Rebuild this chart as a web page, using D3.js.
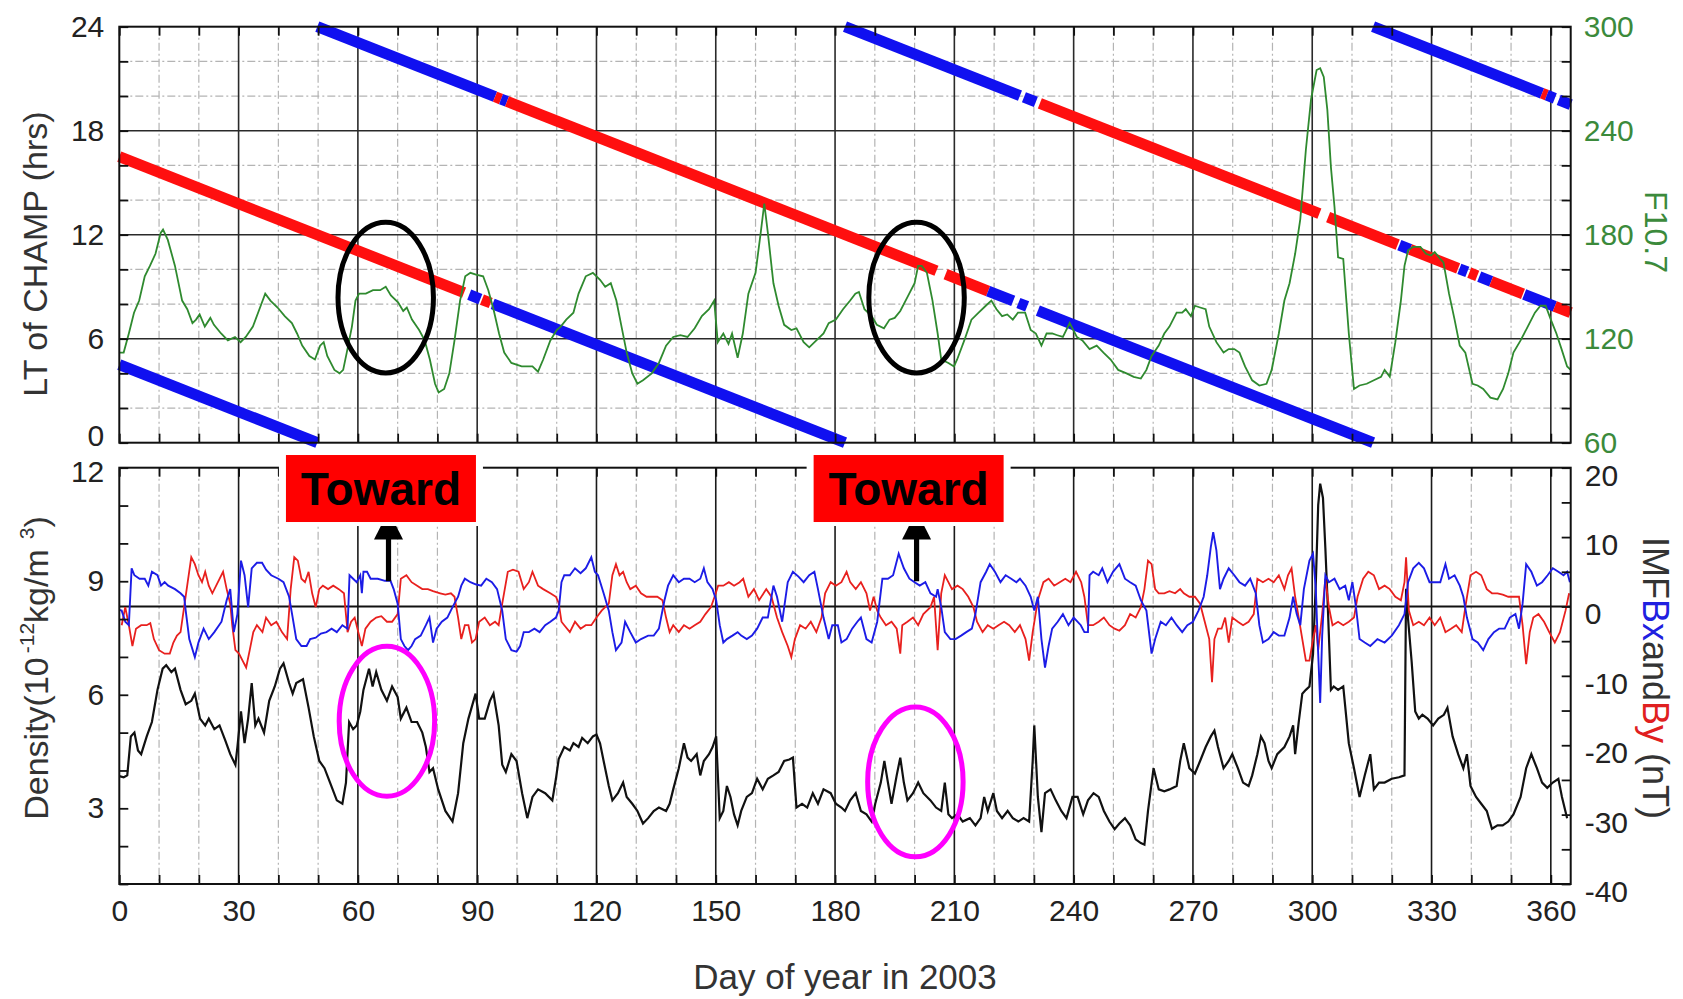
<!DOCTYPE html>
<html>
<head>
<meta charset="utf-8">
<script src="https://cdn.jsdelivr.net/npm/d3@7"></script>
<style>
  body { margin: 0; background: #fff; }
  svg text { font-family: "Liberation Sans", Arial, Helvetica, sans-serif; }
</style>
</head>
<body>
<div id="chart"></div>
<script>
// ---- data ----
const dayDomain = [0, 365];
const ltDomain = [0, 24];
const f107Domain = [60, 300];
const densityDomain = [1, 12];
const imfDomain = [-40, 20];

const xTickLabels = [0, 30, 60, 90, 120, 150, 180, 210, 240, 270, 300, 330, 360];
const ltTickLabels = [0, 6, 12, 18, 24];
const f107TickLabels = [60, 120, 180, 240, 300];
const densityTickLabels = [3, 6, 9, 12];
const imfTickLabels = [-40, -30, -20, -10, 0, 10, 20];

// LT of CHAMP, two orbit nodes: [day0, lt0, day1, lt1, sector] (T = toward, A = away)
const ltNodeA = [
  [0, 4.5, 49.8, 0, "A"],
  [49.8, 24, 94.5, 19.96, "A"],
  [94.5, 19.96, 96, 19.82, "T"],
  [96, 19.82, 97.5, 19.69, "A"],
  [97.5, 19.69, 205.5, 9.92, "T"],
  [207.8, 9.72, 218.5, 8.75, "T"],
  [218.5, 8.75, 224.8, 8.18, "A"],
  [226.1, 8.06, 228.3, 7.86, "A"],
  [231, 7.62, 315.3, 0, "A"],
  [315.3, 24, 357.8, 20.16, "A"],
  [357.8, 20.16, 359, 20.05, "T"],
  [359, 20.05, 361, 19.87, "A"],
  [362, 19.78, 365, 19.51, "A"]
];
const ltNodeB = [
  [0, 16.5, 86.7, 8.66, "T"],
  [88, 8.54, 90.8, 8.29, "A"],
  [91.2, 8.26, 93.4, 8.06, "T"],
  [93.9, 8.01, 182.5, 0, "A"],
  [182.5, 24, 226.5, 20.02, "A"],
  [227.5, 19.93, 230.5, 19.66, "A"],
  [231.5, 19.57, 301.8, 13.22, "T"],
  [304, 13.02, 321.5, 11.43, "T"],
  [321.9, 11.4, 324.6, 11.15, "A"],
  [324.6, 11.15, 336.7, 10.06, "T"],
  [337, 10.03, 339, 9.85, "A"],
  [339.5, 9.81, 341.5, 9.63, "T"],
  [342, 9.58, 345, 9.31, "A"],
  [345, 9.31, 353, 8.59, "T"],
  [353.3, 8.56, 361, 7.87, "A"],
  [361, 7.87, 365, 7.5, "T"]
];

// F10.7 [day, sfu]
const f107 = [[0,112],[1.1,112],[2.4,123],[3.7,135],[5,142],[6.4,156],[7.7,162],[9.1,169],[10.4,181],[11,183],[12.2,177],[14,162],[15.8,142],[17.1,137],[18.4,129],[19.3,131],[20.2,134],[21.5,127],[22.9,132],[23.8,128],[25.6,123],[27.3,119],[29.1,121],[30.5,118],[31.8,121],[33.6,127],[34.9,135],[36.7,146],[38,142],[39.8,138],[41.6,133],[43.4,129],[44.7,123],[46,116],[47.8,110],[49.2,108],[50.5,116],[51.4,118],[52.3,110],[54.1,102],[55.4,100],[56.3,102],[57.2,112],[58.5,127],[59.4,142],[60.3,146],[62,146],[63.8,148],[65.6,148],[67,150],[68.3,145],[70.1,141],[71.4,136],[72.3,138],[73.6,131],[75.4,125],[76.8,119],[78.1,108],[79.4,94],[80.3,89],[81.7,91],[83,100],[84.3,119],[85.7,142],[87,156],[88.3,158],[89.7,157],[91.5,156],[92.8,148],[94.1,137],[95.5,123],[96.8,112],[98.6,106],[101.2,104],[103.9,104],[105.3,101],[106.6,108],[108.4,119],[110,125],
  [111,127],[112.4,131],[114.2,135],[115.5,146],[117.3,156],[119.1,158],[120.9,154],[122.2,150],[123.6,152],[125,142],[126.3,127],[127.6,112],[129,100],[130.3,94],[131.7,96],[133.9,100],[135.7,106],[137.5,116],[139.3,121],[141.1,122],[142.9,121],[144.7,126],[146.5,133],[148.3,137],[149.6,142],[150.5,118],[151.9,123],[153.2,117],[154.1,123],[155.5,109],[156.8,123],[158.2,146],[160,158],[161.3,181],[162.2,198],[163.1,181],[164.5,152],[165.8,139],[167.2,128],[169,125],[170.3,126],[172.1,118],[173.5,115],[175.3,119],[177.1,123],[178.4,129],[180.2,131],[182,137],[183.8,142],[185.1,146],[186,147],[187.4,137],[189.2,133],[190.5,128],[192.3,126],[193.7,131],[195,132],[196.4,136],[198.2,144],[200,152],[200.9,162],[201.8,162],[203.1,158],[204.5,142],[205.8,123],[206.7,108],[208.5,106],[209.9,104],[210.7,108],[212.5,119],[214.3,131],[216.1,135],[217.9,139],[219.3,142],[220.6,137],[222,133],[223.3,134],[224.7,131],[226,135],[227.8,135],[229.2,125],[230.5,123],[231.9,116],[233.2,123],[234.6,123],[235.9,122],[237.3,121],[239,129],[240.8,121],[242.2,119],[244,114],[245.8,116],[247.5,112],[249.3,108],[251.2,102],
  [253.3,100],[255.1,98],[256.9,97],[258.3,102],[259.6,110],[261.4,116],[262.8,123],[264.1,127],[265.9,135],[267.3,135],[268.2,137],[269.5,133],[270.5,139],[271.8,138],[273.2,137],[274.1,127],[275.9,118],[277.7,112],[279,114],[280.4,114],[281.7,112],[283.1,104],[284.9,96],[286.7,93],[288.5,94],[289.8,102],[291.6,123],[293,142],[294.3,152],[295.7,169],[297,189],[298.4,229],[299.7,258],[301.1,275],[302,276],[302.9,271],[303.8,252],[304.7,219],[305.6,196],[306.5,167],[307.8,166],[309.2,123],[310.5,91],[311.9,93],[313.7,94],[315.5,96],[317.3,98],[318.2,102],[319.5,98],[320.9,118],[322.3,142],[323.2,162],[324.1,171],[325.4,173],[327.2,173],[328.6,169],[329.9,168],[330.8,170],[332.2,166],[333,164],[334.4,146],[335.8,131],[337.1,116],[338.5,112],[340.3,94],[341.6,93],[343,91],[344.8,86],[346.6,85],[348,91],[349.3,100],[350.6,112],[352.4,119],[354.2,127],[356,135],[357.4,139],[358.7,139],[360,131],[361.4,123],[362.7,114],[364.1,104],[365,102]];

// Density [day, 1e-12 kg/m3]
const density = [[0,3.85],[1.1,3.82],[2,3.87],[2.9,4.9],[3.8,5.0],[4.7,4.53],[5.5,4.43],[6.9,4.9],[8.2,5.28],[9.6,6.13],[10.9,6.69],[11.8,6.78],[13.1,6.6],[14,6.69],[15.4,6.13],[16.7,5.75],[18.1,5.84],[19,6.03],[20.3,5.37],[21.6,5.19],[22.5,5.37],[23.9,5.09],[25.2,5.19],[26.6,4.81],[27.9,4.43],[29.2,4.15],[29.7,4.62],[30.6,5.56],[31.5,4.72],[32.4,5.37],[33.3,6.31],[34.2,5.19],[35,5.37],[36.4,5.0],[37.7,5.84],[39.1,6.22],[40.4,6.69],[41.3,6.83],[42.7,6.31],[43.6,6.03],[44.5,6.31],[46.2,6.41],[47.6,5.66],[48.9,4.9],[50.3,4.25],[51.6,4.06],[53,3.68],[54.7,3.21],[56.1,3.12],[57,3.68],[57.8,5.28],[58.8,5.09],[59.7,5.19],[60.6,5.56],[61.4,6.13],[62.8,6.69],[63.7,6.22],[64.6,6.6],[65.9,6.13],[67.3,5.84],[68.6,6.22],[70,5.94],[70.8,5.37],[72.2,5.66],[73.5,5.28],[74.9,5.28],[76.2,5.0],[77.1,4.62],[78,3.96],[78.9,4.06],[80.2,3.5],[82,2.93],[83.8,2.65],[85.2,3.4],[86.5,4.72],[87.8,5.37],[89.6,6.03],[90.5,5.37],[91.9,5.37],[93.2,5.84],[94.1,6.03],[95.4,5.19],[96.3,4.15],[97.2,3.96],[98.6,4.43],[99.9,4.25],[101.3,3.4],[102.6,2.74],[103.9,3.3],[105.3,3.5],[107.1,3.4],[108.9,3.21],[109.8,3.78],[110.5,4.3],
  [111.9,4.62],[113.3,4.53],[114.2,4.72],[115.5,4.62],[116.4,4.86],[117.8,4.72],[119.1,4.9],[120,4.95],[120.9,4.72],[121.8,4.25],[123.1,3.59],[124,3.21],[125.4,3.4],[126.7,3.68],[127.6,3.3],[129,3.12],[130.3,2.93],[131.7,2.6],[133,2.74],[134.4,2.93],[135.7,3.02],[137.5,2.93],[138.4,3.12],[139.3,3.5],[140.7,4.06],[142,4.72],[142.9,4.34],[143.8,4.25],[145.2,4.43],[146.1,3.87],[147,4.25],[148.3,4.43],[149.2,4.62],[150.1,4.9],[151,2.74],[151.9,2.93],[152.8,3.59],[153.7,3.3],[154.6,2.84],[155.5,2.55],[156.4,2.93],[157.8,3.3],[159.1,3.4],[160.4,3.78],[161.8,3.5],[163.1,3.78],[164.5,3.87],[165.8,3.96],[167.2,4.25],[168.5,4.29],[169.4,4.34],[170.3,3.02],[171.7,3.12],[173,3.02],[174.4,3.4],[175.7,3.12],[177.1,3.5],[178.9,3.4],[180.2,3.12],[181.6,3.02],[182.5,2.93],[183.8,3.21],[185.2,3.4],[186.5,2.93],[187.9,2.84],[189.2,2.65],[190.1,3.12],[191.5,3.68],[192.4,4.25],[193.3,3.68],[194.2,3.12],[195.5,3.87],[196.4,4.34],[197.3,3.68],[198.2,3.21],[199.6,3.4],[200.9,3.68],[202.2,3.4],[204,3.21],[205.4,3.02],[206.7,2.93],[207.6,3.68],[208.5,2.84],[209.4,2.74],[210.8,2.84],[212.1,2.65],[213.9,2.74],[215.3,2.55],[216.6,2.74],[217.5,3.3],[218.4,2.93],[219.8,3.4],[220.7,2.93],[222,2.74],[223.4,2.93],[224.7,2.74],[226.1,2.65],[227.4,2.74],[228.8,2.65],[229.7,4.25],[230.1,5.19],[231,3.3],[231.9,2.37],[232.8,3.4],[234.2,3.5],[235.5,3.21],[236.9,2.93],[238.2,2.74],[239.7,3.3],[241,3.3],[242.4,2.84],[243.6,3.21],[245,3.4],[246.3,3.3],[247.6,2.93],[249,2.65],[250.3,2.45],
  [251.5,2.6],[252.9,2.74],[254.2,2.55],[255.6,2.18],[256.9,2.08],[257.8,2.04],[258.7,2.93],[260.1,4.06],[261.4,3.5],[262.8,3.45],[264.1,3.5],[265.9,3.59],[266.8,4.25],[267.7,4.72],[269.1,4.06],[270.5,3.92],[271.8,4.25],[273.2,4.62],[274.5,4.9],[275.4,5.05],[276.3,4.62],[277.7,4.06],[279,4.25],[279.9,4.43],[281.3,4.06],[282.6,3.68],[284,3.59],[284.9,3.87],[286.2,4.43],[287.1,4.9],[288,4.72],[289,4.25],[289.8,4.06],[291.2,4.43],[293,4.62],[294.3,4.9],[295.2,5.19],[295.7,4.43],[296.6,5.28],[297.5,6.03],[298.4,6.13],[299.3,6.22],[300.2,7.07],[300.9,8.95],[301.5,11.01],[302,11.58],[302.7,11.2],[303.3,9.88],[303.9,8.38],[304.7,6.13],[305.4,6.22],[306.5,6.13],[307.8,6.22],[309.2,4.72],[310.5,4.06],[311.9,3.3],[313.2,3.87],[314.6,4.43],[315.5,3.5],[316.8,3.68],[318.2,3.68],[320,3.78],[321.8,3.82],[323.2,3.87],[323.6,8.8],[324.1,8.0],[325,6.88],[325.9,5.56],[326.8,5.37],[327.7,5.47],[329,5.37],[330.4,5.19],[331.7,5.37],[333.1,5.47],[334,5.66],[335.3,4.9],[336.7,4.43],[338,4.06],[338.9,4.43],[339.8,3.59],[341.2,3.3],[342.5,3.12],[343.9,2.93],[345.2,2.46],[346.6,2.55],[347.9,2.55],[349.3,2.65],[350.6,2.84],[352.4,3.3],[353.8,4.06],[355.1,4.43],[356.5,4.06],[357.8,3.68],[359.1,3.54],[360.5,3.68],[361.9,3.78],[362.8,3.3],[364.1,2.74]];

// IMF Bx [day, nT]
const imfBx = [[0,-0.5],[0.6,-0.6],[1.5,-2.2],[2.4,-2.7],[3.1,5.5],[3.8,4.5],[5.1,4.0],[6.4,4.0],[7.3,3.0],[8.2,5.0],[9.6,4.5],[10.5,3.0],[11.4,3.5],[12.3,3.0],[14,2.5],[15.4,1.9],[16.3,1.4],[16.7,-0.6],[17.6,-4.7],[19,-7.3],[19.9,-5.2],[21.2,-3.2],[22.5,-4.7],[23.9,-3.7],[25.7,-2.2],[27,0.9],[27.9,2.5],[28.8,-3.7],[29.7,-1.1],[30.6,6.6],[31.5,4.5],[32.4,-0.1],[33.3,5.5],[34.6,6.3],[35.9,6.3],[36.9,5.3],[38.2,4.5],[40,4.0],[41.3,3.5],[42.7,1.4],[43.6,-1.6],[44.5,-4.7],[45.8,-5.7],[47.1,-5.7],[48,-4.7],[49.4,-4.5],[50.7,-3.9],[52.1,-3.7],[53.4,-3.2],[54.7,-3.7],[56.1,-2.7],[57.4,-3.2],[57.9,4.5],[58.8,4.0],[59.7,3.5],[60.6,4.5],[61,1.9],[61.4,5.0],[62.3,5.0],[63.2,4.0],[65,4.0],[66.8,3.7],[68.2,3.7],[69,2.5],[70,0.4],[70.8,-4.7],[71.7,-5.7],[72.6,-6.3],[73.5,-5.7],[74.4,-4.7],[75.8,-4.2],[77.1,-2.7],[78,-1.6],[78.9,-5.2],[79.8,-3.2],[81.1,-2.2],[82.5,-1.6],[83.8,-0.1],[85.2,1.4],[86,3.0],[86.9,4.0],[88.3,3.5],[89.6,3.2],[91,3.0],[92.3,4.0],[93.7,3.5],[95,2.5],[96.3,-0.6],[97.2,-4.7],[98.6,-6.3],[99.9,-6.5],[100.8,-5.7],[101.7,-3.7],[103,-3.7],[104.4,-3.2],[105.7,-3.7],[107.1,-2.7],[108.4,-2.2],[109.8,-1.6],[110.5,-0.6],
  [111.2,3.5],[111.9,4.5],[113.3,4.5],[114.6,5.5],[116,4.8],[117.3,5.5],[118.7,7.1],[119.6,5.0],[120.4,4.5],[121.8,1.9],[123.1,-0.6],[124,-3.7],[124.9,-6.3],[126.3,-5.2],[127.2,-2.2],[128.5,-3.7],[129.9,-5.2],[131.2,-4.7],[133,-4.2],[134.4,-4.2],[135.7,-3.2],[137.1,0.9],[138,3.0],[139.3,4.5],[140.7,3.5],[142,4.0],[143.4,4.0],[144.7,3.5],[146.1,4.0],[147,5.5],[147.9,3.5],[149.2,2.5],[150.1,0.9],[151,-2.7],[151.9,-5.2],[152.8,-4.7],[154.2,-4.2],[155.5,-3.7],[156.4,-4.2],[157.8,-4.7],[159.1,-4.2],[160.4,-3.2],[161.8,-1.6],[163.1,-1.6],[164.5,3.0],[165.4,1.4],[166.7,-2.2],[168.1,3.5],[169.4,5.0],[170.8,4.3],[172.1,3.5],[173.5,4.5],[174.8,5.0],[175.7,2.5],[177.1,-1.6],[178.4,-4.7],[179.3,-2.7],[180.7,-2.7],[181.6,-5.2],[182.9,-4.7],[184.3,-3.2],[185.6,-2.2],[186.5,-1.6],[187.9,-4.7],[189.2,-5.2],[190.6,-2.2],[191.9,4.0],[193.3,4.0],[194.6,4.5],[196,7.6],[197.3,5.5],[198.7,4.0],[200,3.5],[201.3,3.0],[202.7,3.5],[204,1.9],[205.4,1.4],[205.8,2.5],[206.7,-0.1],[207.6,-3.7],[209,-4.7],[210.3,-4.7],[211.7,-4.2],[213,-3.7],[214.4,-3.2],[215.3,-1.1],[216.6,3.5],[218,5.0],[218.9,6.1],[220.2,5.0],[221.6,3.5],[222.9,4.5],[224.3,4.0],[225.6,3.5],[226.5,4.0],[227.9,3.0],[229.2,1.4],[230.1,-0.6],[231,1.4],[231.9,-4.7],[232.8,-8.8],[233.7,-5.7],[234.6,-3.2],[236,-2.2],[237.3,-1.1],[238.7,-2.7],[240,-1.6],[241.8,-2.7],[242.7,-3.7],[243.6,-3.7],[244,4.5],[244.9,5.0],[246.3,4.5],[247.2,5.5],[248.5,3.5],[249.9,5.0],[251.5,6.1],
  [252.9,4.0],[254.2,3.5],[255.6,3.0],[256.9,0.9],[258.3,-0.6],[259.6,-6.8],[260.5,-4.7],[261.9,-2.2],[263.2,-2.7],[264.6,-1.6],[265.9,-2.7],[267.3,-3.7],[268.6,-2.7],[270,-2.2],[271.4,-0.6],[272.7,1.4],[273.6,4.5],[274.5,8.6],[275.1,10.7],[275.9,8.1],[276.8,2.5],[277.7,4.0],[279,5.5],[280.4,4.5],[281.7,3.5],[283.1,3.0],[284.4,4.0],[285.8,1.9],[286.7,-2.7],[287.6,-5.2],[289,-4.7],[290.3,-3.7],[291.6,-4.2],[293,-4.2],[294.3,-1.6],[295.2,1.4],[296.1,-1.1],[297,-2.7],[297.9,2.5],[299.3,6.6],[300.2,7.6],[300.9,2.5],[301.5,-6.8],[302,-13.9],[302.5,-4.2],[303.3,4.5],[304.2,3.5],[305.6,4.0],[306.9,2.5],[308.3,3.0],[309.2,0.9],[310.1,3.5],[311,-0.1],[311.9,-4.7],[313.2,-5.2],[314.6,-5.7],[316.4,-4.7],[318.2,-5.2],[320,-4.2],[321.8,-2.7],[323.2,-1.1],[324.1,3.5],[325.4,5.5],[326.8,6.3],[328.1,5.5],[329.5,3.5],[330.8,3.5],[332.2,3.5],[333.5,6.1],[334.4,4.0],[335.8,4.5],[337.1,3.0],[338,1.4],[338.9,-1.6],[340.3,-4.7],[341.6,-5.2],[343,-6.3],[344.3,-4.7],[345.7,-3.7],[347,-3.2],[348.4,-3.2],[349.7,-1.6],[351.1,-1.1],[352,-3.2],[352.9,0.4],[353.8,6.1],[355.1,5.0],[356.5,3.0],[357.8,3.5],[359.2,4.5],[360.5,5.5],[361.9,5.0],[363.2,4.5],[364.1,5.0],[364.8,3.5]];

// IMF By [day, nT]
const imfBy = [[0.6,-2.7],[1.5,-0.1],[2.4,-2.7],[3.3,-5.7],[4.2,-3.2],[5.5,-2.7],[6.9,-2.7],[7.8,-2.4],[8.7,-4.7],[10,-6.3],[11.4,-6.8],[12.7,-6.8],[13.6,-5.2],[14.5,-4.2],[15.4,-3.7],[16.3,-0.1],[17.2,3.5],[18.1,7.1],[19,6.1],[19.9,4.5],[20.8,3.5],[21.6,5.0],[22.5,3.0],[23.4,1.9],[24.8,3.5],[26.1,5.0],[27,2.5],[27.9,0.4],[28.4,-2.7],[29.2,-6.3],[30.1,-6.8],[31,-7.8],[31.9,-8.8],[32.8,-6.3],[33.7,-3.7],[34.6,-2.7],[36,-3.7],[36.9,-1.6],[38.2,-2.7],[39.5,-2.2],[40.9,-3.7],[42.2,-4.7],[43.1,2.5],[44,7.1],[44.9,6.6],[45.8,4.0],[46.7,3.5],[47.6,5.0],[48.5,1.9],[49.4,-0.1],[50.3,2.5],[51.2,3.0],[52.5,2.5],[53.8,3.0],[55.2,2.5],[56.5,1.9],[57.4,-3.7],[58.3,-2.2],[59.2,-1.6],[60.1,-3.7],[61,-5.7],[61.9,-3.2],[63.2,-2.2],[64.6,-1.6],[65.9,-1.4],[67.3,-2.2],[68.6,-2.2],[70,-1.1],[70.8,4.0],[72.2,4.5],[73.5,3.5],[74.9,3.0],[76.2,2.5],[77.6,2.5],[78.9,2.2],[80.7,1.9],[82,1.7],[83.4,1.9],[84.3,1.4],[85.2,-1.6],[86,-4.7],[86.9,-2.7],[87.8,-2.7],[88.7,-5.2],[89.6,-4.7],[90.5,-2.2],[91.9,-1.6],[93.2,-2.7],[94.5,-2.2],[95.4,-2.7],[96.3,0.4],[97.7,5.0],[99,5.3],[100.4,5.0],[101.7,2.5],[103,3.5],[103.9,5.0],[105.3,3.0],[106.6,2.5],[108.4,1.9],[109.8,1.4],[110.5,0.5],
  [111.2,-2.2],[111.9,-2.7],[113.3,-3.7],[114.6,-2.2],[116,-3.2],[117.3,-2.7],[118.7,-2.7],[120,-1.6],[121.3,-0.6],[123.1,0.4],[124,4.5],[124.9,6.1],[125.8,4.5],[126.7,5.0],[127.6,3.5],[128.5,2.5],[129.9,3.0],[131.2,1.9],[132.6,1.4],[133.9,1.4],[135.3,1.4],[136.6,0.9],[137.5,-1.6],[138.4,-3.7],[139.3,-2.7],[140.7,-3.7],[142,-2.7],[143.4,-3.2],[144.7,-2.7],[146.1,-2.2],[147.4,-1.1],[148.8,-0.1],[149.7,1.4],[150.6,3.0],[151.9,3.0],[153.3,3.5],[154.6,3.0],[156,3.5],[156.9,4.0],[158.2,1.4],[159.6,2.5],[160.9,0.9],[162.7,2.5],[164,1.4],[165.4,-1.6],[166.7,-3.7],[168.1,-5.7],[169,-7.3],[169.9,-4.7],[171.2,-2.7],[172.6,-3.2],[173.9,-2.2],[175.3,-3.7],[176.6,-1.6],[177.5,1.9],[178.9,3.5],[180.2,3.0],[181.6,3.5],[182.9,5.0],[183.8,3.5],[185.2,2.5],[186.5,3.5],[187.9,1.9],[188.8,-0.6],[189.7,1.4],[190.6,-0.6],[191.5,-1.6],[192.8,-2.7],[194.2,-2.2],[195.5,-3.2],[196.4,-6.8],[196.9,-2.7],[198.2,-2.2],[199.6,-1.6],[200.9,-2.7],[202.2,-1.1],[204,-0.1],[204.9,1.4],[205.8,-6.3],[206.7,1.9],[207.6,4.5],[208.5,3.5],[209.4,2.5],[210.8,3.0],[212.1,2.5],[213.5,1.4],[214.8,-0.1],[215.7,-2.2],[217.1,-3.7],[218.4,-2.7],[219.8,-3.2],[221.1,-2.7],[222.5,-2.2],[223.8,-2.7],[225.2,-3.7],[226.5,-2.7],[227.9,-4.7],[228.8,-7.8],[229.7,-3.7],[231,0.9],[232.4,3.5],[233.7,4.0],[235.1,3.0],[236.5,3.5],[237.9,4.0],[239.2,3.5],[240.6,5.0],[241.9,3.5],[242.7,1.4],[243.6,-2.7],[244.9,-2.7],[246.3,-2.2],[247.6,-1.6],[249,-2.7],[250.3,-3.2],[251.5,-3.5],
  [252.9,-2.7],[254.2,-1.1],[255.6,-1.6],[256.9,-0.1],[257.8,2.5],[258.7,6.6],[259.6,6.1],[260.5,2.5],[261.4,1.9],[262.8,1.9],[264.1,2.2],[265.5,1.9],[266.8,2.5],[267.7,1.9],[269.1,1.4],[270.5,1.4],[271.8,0.4],[273.2,-2.7],[274.1,-4.7],[274.8,-10.9],[275.4,-4.7],[276.3,-3.2],[277.2,-3.2],[278.1,-1.6],[279,-5.2],[279.9,-1.6],[281.3,-2.2],[282.6,-2.7],[284,-2.2],[285.3,-1.1],[286.2,4.0],[287.6,3.5],[289,4.0],[290.3,3.5],[291.6,4.5],[293,2.5],[293.9,4.5],[294.8,5.5],[295.7,1.4],[296.6,-1.6],[297.5,-4.7],[298.4,-7.8],[299.3,-7.8],[300.2,-4.7],[300.9,-2.7],[301.5,-6.3],[302.5,-1.1],[303.3,4.0],[304.2,-0.1],[305.1,-2.7],[306.5,-2.2],[307.8,-2.7],[309.2,-2.2],[310.5,-1.6],[311.4,1.4],[312.8,4.0],[314.1,5.0],[315.5,4.5],[316.8,2.5],[318.2,3.0],[319.5,2.5],[320.9,1.4],[322.3,0.9],[323.2,3.5],[323.6,7.1],[324.3,-0.6],[325.4,-2.7],[326.8,-2.2],[328.1,-2.7],[329.5,-1.6],[330.8,-2.7],[332.2,-1.6],[333.5,-3.7],[334.9,-3.2],[336.2,-2.7],[337.6,-3.7],[338.5,-0.1],[339.8,4.5],[341.2,5.0],[342.5,4.5],[343.9,2.5],[345.2,1.9],[346.6,1.9],[347.9,1.7],[349.3,1.4],[350.6,1.4],[352,1.4],[352.9,-2.7],[353.8,-8.3],[354.7,-3.7],[355.6,-1.6],[356.9,-1.1],[358.3,-2.2],[359.6,-3.7],[361,-5.2],[362.3,-3.7],[363.7,-0.6],[364.6,1.9]];

// annotations, in data units
const ltRings = [[67, 8.37], [200.5, 8.37]];          // [day, LT]
const densityRings = [[67.3, 5.3], [200.2, 3.7]];     // [day, density]
const towardLabels = [[65.8, "Toward"], [198.5, "Toward"]];
const towardArrows = [67.7, 200.5];

// ---- layout ----
const width = 1683, height = 999;
const plotLeft = 119.3, plotRight = 1570.7;
const topY0 = 26.7, topY1 = 442.7;
const botY0 = 467.7, botY1 = 884;
const sectorColor = { T: "#ff0f0f", A: "#1010f0" };
const fontTick = 30;

const svg = d3.select("#chart").append("svg")
  .attr("width", width).attr("height", height)
  .style("background", "#fff");

const x = d3.scaleLinear().domain(dayDomain).range([plotLeft, plotRight]);
const yLT = d3.scaleLinear().domain(ltDomain).range([topY1, topY0]);
const yF = d3.scaleLinear().domain(f107Domain).range([topY1, topY0]);
const yDen = d3.scaleLinear().domain(densityDomain).range([botY1, botY0]);
const yB = d3.scaleLinear().domain(imfDomain).range([botY1, botY0]);

const dayGrid = d3.range(10, 361, 10);

// grid, top panel
const gTop = svg.append("g");
gTop.selectAll(".vmin").data(dayGrid.filter(d => d % 30)).join("line")
  .attr("x1", d => x(d)).attr("x2", d => x(d)).attr("y1", topY0).attr("y2", topY1)
  .attr("stroke", "#b4b4b4").attr("stroke-width", 1.2).attr("stroke-dasharray", "8,3,2,3");
gTop.selectAll(".hmin").data(d3.range(2, 24, 2).filter(d => d % 6)).join("line")
  .attr("x1", plotLeft).attr("x2", plotRight).attr("y1", d => yLT(d)).attr("y2", d => yLT(d))
  .attr("stroke", "#b4b4b4").attr("stroke-width", 1.2).attr("stroke-dasharray", "8,3,2,3");
gTop.append("g").selectAll("line").data(dayGrid.filter(d => d % 30 === 0)).join("line")
  .attr("x1", d => x(d)).attr("x2", d => x(d)).attr("y1", topY0).attr("y2", topY1)
  .attr("stroke", "#2a2a2a").attr("stroke-width", 1.6);
gTop.append("g").selectAll("line").data([6, 12, 18]).join("line")
  .attr("x1", plotLeft).attr("x2", plotRight).attr("y1", d => yLT(d)).attr("y2", d => yLT(d))
  .attr("stroke", "#2a2a2a").attr("stroke-width", 1.6);

// grid, bottom panel
const gBot = svg.append("g");
gBot.append("g").selectAll("line").data(dayGrid.filter(d => d % 30)).join("line")
  .attr("x1", d => x(d)).attr("x2", d => x(d)).attr("y1", botY0).attr("y2", botY1)
  .attr("stroke", "#b4b4b4").attr("stroke-width", 1.2).attr("stroke-dasharray", "8,3,2,3");
gBot.append("g").selectAll("line").data(dayGrid.filter(d => d % 30 === 0)).join("line")
  .attr("x1", d => x(d)).attr("x2", d => x(d)).attr("y1", botY0).attr("y2", botY1)
  .attr("stroke", "#1a1a1a").attr("stroke-width", 1.6);
gBot.append("line")
  .attr("x1", plotLeft).attr("x2", plotRight).attr("y1", yB(0)).attr("y2", yB(0))
  .attr("stroke", "#111").attr("stroke-width", 2);

// LT of CHAMP (thick marker trails)
svg.append("g").selectAll("line").data(ltNodeA.concat(ltNodeB)).join("line")
  .attr("x1", d => x(d[0])).attr("y1", d => yLT(d[1]))
  .attr("x2", d => x(d[2])).attr("y2", d => yLT(d[3]))
  .attr("stroke", d => sectorColor[d[4]])
  .attr("stroke-width", 11);

// F10.7
svg.append("path").datum(f107)
  .attr("fill", "none").attr("stroke", "#2f8a2f").attr("stroke-width", 1.8)
  .attr("d", d3.line().x(d => x(d[0])).y(d => yF(d[1])));

// density and IMF
svg.append("path").datum(density)
  .attr("fill", "none").attr("stroke", "#111").attr("stroke-width", 2.2)
  .attr("d", d3.line().x(d => x(d[0])).y(d => yDen(d[1])));
svg.append("path").datum(imfBy)
  .attr("fill", "none").attr("stroke", "#e8201e").attr("stroke-width", 1.8)
  .attr("d", d3.line().x(d => x(d[0])).y(d => yB(d[1])));
svg.append("path").datum(imfBx)
  .attr("fill", "none").attr("stroke", "#1c1ce6").attr("stroke-width", 1.9)
  .attr("d", d3.line().x(d => x(d[0])).y(d => yB(d[1])));

// frames
[[topY0, topY1], [botY0, botY1]].forEach(([a, b]) => {
  svg.append("rect").attr("x", plotLeft).attr("y", a)
    .attr("width", plotRight - plotLeft).attr("height", b - a)
    .attr("fill", "none").attr("stroke", "#111").attr("stroke-width", 2);
});

// axes
function styleAxis(g, color) {
  g.select(".domain").remove();
  g.selectAll(".tick line").attr("stroke", "#111").attr("stroke-width", 1.8);
  g.selectAll("text").attr("font-size", fontTick).attr("fill", color || "#222")
    .attr("font-family", '"Liberation Sans", Arial, sans-serif');
}
const noLabel = () => "";
const dayTicks = d3.range(0, 361, 10);

svg.append("g").attr("transform", `translate(0,${topY0})`)
  .call(d3.axisTop(x).tickValues(dayTicks).tickSize(-9).tickFormat(noLabel)).call(styleAxis);
svg.append("g").attr("transform", `translate(0,${topY1})`)
  .call(d3.axisBottom(x).tickValues(dayTicks).tickSize(-9).tickFormat(noLabel)).call(styleAxis);
svg.append("g").attr("transform", `translate(0,${botY0})`)
  .call(d3.axisTop(x).tickValues(dayTicks).tickSize(-9).tickFormat(noLabel)).call(styleAxis);
svg.append("g").attr("transform", `translate(0,${botY1})`)
  .call(d3.axisBottom(x).tickValues(dayTicks).tickSize(-9).tickPadding(16)
    .tickFormat(d => xTickLabels.includes(d) ? d : "")).call(styleAxis);

const ltAx = svg.append("g").attr("transform", `translate(${plotLeft},0)`)
  .call(d3.axisLeft(yLT).tickValues(d3.range(0, 25, 2)).tickSize(-9).tickPadding(15)
    .tickFormat(d => ltTickLabels.includes(d) ? d : "")).call(styleAxis);
// the lowest LT label sits just above the density "12", as in the figure
ltAx.selectAll(".tick").filter(d => d === 0).select("text").attr("dy", "0.1em");
svg.append("g").attr("transform", `translate(${plotRight},0)`)
  .call(d3.axisRight(yF).tickValues(d3.range(60, 301, 20)).tickSize(-9).tickPadding(13)
    .tickFormat(d => f107TickLabels.includes(d) ? d : "")).call(g => styleAxis(g, "#3b8a3b"));

const denAx = svg.append("g").attr("transform", `translate(${plotLeft},0)`)
  .call(d3.axisLeft(yDen).tickValues(d3.range(1, 13, 1)).tickSize(-9).tickPadding(15)
    .tickFormat(d => densityTickLabels.includes(d) ? d : "")).call(styleAxis);
denAx.selectAll(".tick").filter(d => d === 12).select("text").attr("dy", "0.45em");
const rAx = svg.append("g").attr("transform", `translate(${plotRight},0)`)
  .call(d3.axisRight(yB).tickValues(d3.range(-40, 21, 5)).tickSize(-9).tickPadding(14)
    .tickFormat(d => imfTickLabels.includes(d) ? d : "")).call(styleAxis);
rAx.selectAll("text").attr("dy", "0.58em");

// annotation rings
const ringRx = x(12) - x(0);
svg.append("g").selectAll("ellipse").data(ltRings).join("ellipse")
  .attr("cx", d => x(d[0])).attr("cy", d => yLT(d[1]))
  .attr("rx", ringRx).attr("ry", yLT(0) - yLT(4.35))
  .attr("fill", "none").attr("stroke", "#000").attr("stroke-width", 5);
svg.append("g").selectAll("ellipse").data(densityRings).join("ellipse")
  .attr("cx", d => x(d[0])).attr("cy", d => yDen(d[1]))
  .attr("rx", ringRx).attr("ry", yDen(1) - yDen(2.98))
  .attr("fill", "none").attr("stroke", "#ff00ff").attr("stroke-width", 5);

// arrows
const arrows = svg.append("g");
towardArrows.forEach(d => {
  const cx = x(d), tip = yDen(10.86), base = yDen(10.1), end = yDen(9.0);
  arrows.append("rect").attr("x", cx - 2.6).attr("y", base - 1).attr("width", 5.2).attr("height", end - base + 1)
    .attr("fill", "#000");
  arrows.append("path").attr("d", `M${cx},${tip}L${cx + 14.5},${base}L${cx - 14.5},${base}Z`).attr("fill", "#000");
});

// "Toward" boxes
const boxW = 190, boxH = 67;
const boxes = svg.append("g");
towardLabels.forEach(([d, label]) => {
  const cx = x(d), cy = yDen(11.45);
  boxes.append("rect").attr("x", cx - boxW / 2 - 7).attr("y", cy - boxH / 2 - 6)
    .attr("width", boxW + 14).attr("height", boxH + 10).attr("fill", "#fff");
  boxes.append("rect").attr("x", cx - boxW / 2).attr("y", cy - boxH / 2)
    .attr("width", boxW).attr("height", boxH).attr("fill", "#ff0000");
  boxes.append("text").attr("x", cx).attr("y", cy + 16)
    .attr("text-anchor", "middle").attr("font-size", 46).attr("font-weight", "bold")
    .attr("fill", "#000").text(label);
});

// titles
svg.append("text").attr("transform", "translate(47,254) rotate(-90)")
  .attr("text-anchor", "middle").attr("font-size", 34).attr("fill", "#333")
  .text("LT of CHAMP (hrs)");

const denTitle = svg.append("text").attr("transform", "translate(48,668) rotate(-90)")
  .attr("text-anchor", "middle").attr("font-size", 34).attr("fill", "#333");
denTitle.append("tspan").text("Density(10");
denTitle.append("tspan").attr("font-size", 21).attr("dy", -14).attr("dx", 4).text("-12");
denTitle.append("tspan").attr("dy", 14).text("kg/m");
denTitle.append("tspan").attr("font-size", 21).attr("dy", -14).attr("dx", 10).text("3");
denTitle.append("tspan").attr("dy", 14).text(")");

svg.append("text").attr("transform", "translate(1645,232) rotate(90)")
  .attr("text-anchor", "middle").attr("font-size", 32).attr("fill", "#3b8a3b")
  .text("F10.7");

const imfTitle = svg.append("text").attr("transform", "translate(1643,678) rotate(90)")
  .attr("text-anchor", "middle").attr("font-size", 36).attr("fill", "#333");
imfTitle.append("tspan").text("IMF");
imfTitle.append("tspan").attr("fill", "#2020e0").text("Bx");
imfTitle.append("tspan").text("and");
imfTitle.append("tspan").attr("fill", "#e02020").text("By");
imfTitle.append("tspan").text(" (nT)");

svg.append("text").attr("x", (plotLeft + plotRight) / 2).attr("y", 989)
  .attr("text-anchor", "middle").attr("font-size", 35).attr("fill", "#333")
  .text("Day of year in 2003");
</script>
</body>
</html>
